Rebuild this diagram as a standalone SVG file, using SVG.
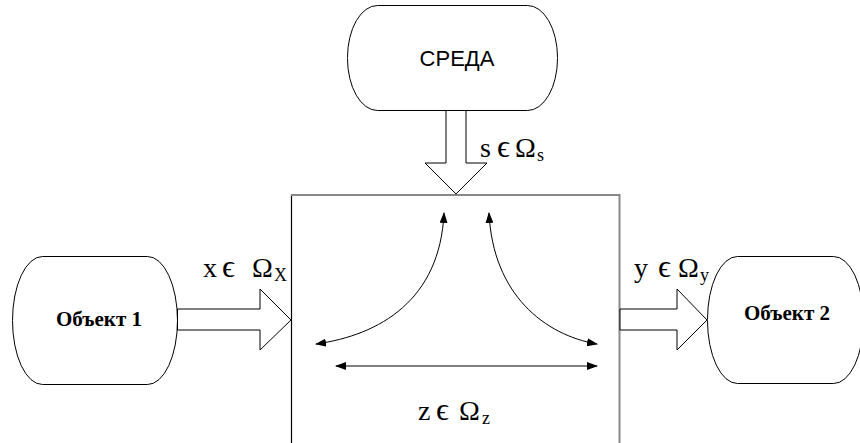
<svg xmlns="http://www.w3.org/2000/svg" width="860" height="443" viewBox="0 0 860 443">
<style>
.node{fill:#fff;stroke:#000;stroke-width:1}
.big{fill:#fff;stroke:#000;stroke-width:1}
.thin{fill:none;stroke:#000;stroke-width:1}
.lbl{font-family:"Liberation Serif","Times New Roman",serif;font-size:28px;fill:#000}
.sub{font-size:18px}
.el{font-size:32px}
.obj{font-family:"Liberation Serif","Times New Roman",serif;font-size:21px;font-weight:bold;fill:#000}
.env{font-family:"Liberation Sans",Arial,sans-serif;font-size:22px;fill:#000}
</style>
<defs>
<marker id="ah" viewBox="0 0 11 8" refX="10" refY="4" markerWidth="11" markerHeight="8" markerUnits="userSpaceOnUse" orient="auto-start-reverse">
<path d="M0,0 L11,4 L0,8 z" fill="#000"/>
</marker>
</defs>
<rect width="860" height="443" fill="#fff"/>
<g id="system">
<line x1="291.5" y1="194" x2="291.5" y2="443" stroke="#000" stroke-width="1.2"/>
<line x1="291" y1="195" x2="620" y2="195" stroke="#888" stroke-width="2"/>
<line x1="619.5" y1="194" x2="619.5" y2="443" stroke="#888" stroke-width="2"/>
<text class="lbl" y="420"><tspan x="418">z</tspan><tspan x="436" class="el">ϵ</tspan><tspan x="459">Ω</tspan><tspan x="482" dy="4" class="sub">z</tspan></text>
</g>
<g id="env">
<rect class="node" x="347.5" y="5.5" width="210" height="105" rx="30" ry="52"/>
<text class="env" x="457" y="66" text-anchor="middle">СРЕДА</text>
</g>
<g id="obj1">
<rect class="node" x="12.5" y="256.5" width="165" height="128" rx="30" ry="64"/>
<text class="obj" x="99" y="326" text-anchor="middle">Объект 1</text>
</g>
<g id="obj2">
<rect class="node" x="707.5" y="256.5" width="156" height="127" rx="30" ry="63"/>
<text class="obj" x="787" y="320" text-anchor="middle">Объект 2</text>
</g>
<g id="connectors">
<polygon class="big" points="446,110.5 466,110.5 466,163 487,163 456,194 425,163 446,163"/>
<polygon class="big" points="177.5,309 260,309 260,289 291,320 260,350 260,330 177.5,330"/>
<polygon class="big" points="620,309 677,309 677,289 707,320 677,350 677,330 620,330"/>
<path class="thin" d="M444,213 C440,300 380,335 316,344" marker-start="url(#ah)" marker-end="url(#ah)"/>
<path class="thin" d="M489,213 C493,295 545,335 597,344" marker-start="url(#ah)" marker-end="url(#ah)"/>
<line class="thin" x1="336" y1="366" x2="597" y2="366" marker-start="url(#ah)" marker-end="url(#ah)"/>
<text class="lbl" y="157"><tspan x="480">s</tspan><tspan x="497" class="el">ϵ</tspan><tspan x="515">Ω</tspan><tspan x="537" dy="4" class="sub">s</tspan></text>
<text class="lbl" y="277"><tspan x="203">x</tspan><tspan x="222" class="el">ϵ</tspan><tspan x="252">Ω</tspan><tspan x="274" dy="4" class="sub">X</tspan></text>
<text class="lbl" y="277"><tspan x="634">y</tspan><tspan x="658" class="el">ϵ</tspan><tspan x="678">Ω</tspan><tspan x="700" dy="4" class="sub">y</tspan></text>
</g>
</svg>
